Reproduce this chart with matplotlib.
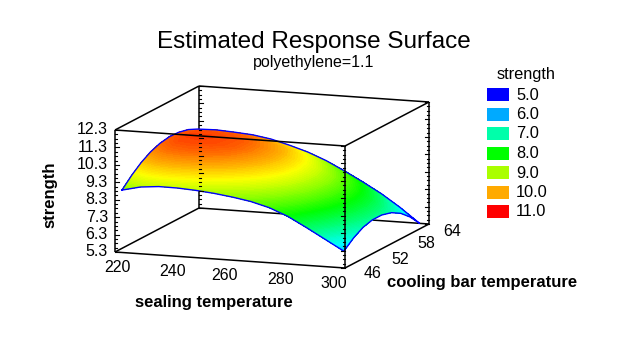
import numpy as np
import matplotlib
matplotlib.use("Agg")
import matplotlib.pyplot as plt
from matplotlib.colors import LinearSegmentedColormap
from matplotlib.patches import Rectangle

plt.rcParams['font.family'] = ['Liberation Sans', 'DejaVu Sans']

# surface
sealing = [221.6, 228.0, 234.4, 240.8, 247.2, 253.6, 260.0, 266.4, 272.8, 279.2, 285.6, 292.0, 298.8]
cooling = [46.5, 48.6, 50.6, 52.6, 54.6, 56.7, 58.7, 60.7, 62.7]
strength = [
    [8.80, 9.36, 9.80, 10.13, 10.34, 10.44, 10.41, 10.28, 10.03],
    [9.05, 9.61, 10.05, 10.36, 10.55, 10.62, 10.56, 10.37, 10.06],
    [9.15, 9.70, 10.12, 10.42, 10.59, 10.63, 10.55, 10.34, 10.00],
    [9.14, 9.68, 10.10, 10.39, 10.55, 10.58, 10.49, 10.27, 9.92],
    [9.08, 9.62, 10.02, 10.30, 10.45, 10.46, 10.35, 10.11, 9.75],
    [8.98, 9.48, 9.86, 10.11, 10.24, 10.23, 10.10, 9.85, 9.47],
    [8.84, 9.31, 9.66, 9.89, 9.99, 9.97, 9.82, 9.55, 9.15],
    [8.66, 9.10, 9.41, 9.61, 9.68, 9.62, 9.45, 9.15, 8.73],
    [8.38, 8.80, 9.09, 9.25, 9.29, 9.21, 9.00, 8.66, 8.21],
    [7.96, 8.39, 8.68, 8.84, 8.87, 8.76, 8.52, 8.15, 7.65],
    [7.40, 7.83, 8.13, 8.29, 8.31, 8.20, 7.95, 7.57, 7.05],
    [6.81, 7.26, 7.57, 7.73, 7.75, 7.62, 7.34, 6.92, 6.35],
    [6.18, 6.65, 6.97, 7.12, 7.12, 6.96, 6.64, 6.15, 5.51],
]

x_ticks = [220, 240, 260, 280, 300]
y_ticks = [46, 52, 58, 64]
z_ticks = [5.3, 6.3, 7.3, 8.3, 9.3, 10.3, 11.3, 12.3]

legend_values = [5.0, 6.0, 7.0, 8.0, 9.0, 10.0, 11.0]
legend_colors = ['#0000ff', '#00aaff', '#00ffaa', '#00ff00', '#aaff00', '#ffaa00', '#ff0000']


def project(x, y, z):
    # oblique box: front-left-bottom corner plus one pixel vector per axis
    u = (np.asarray(x, float) - 220) / 80
    v = (np.asarray(y, float) - 46) / 18
    w = (np.asarray(z, float) - 5.3) / 7
    return 115 + 230 * u + 84 * v, 252 + 16 * u - 44 * v - 122 * w


def edge(ax, p, q, zorder=1):
    a = project(*p)
    b = project(*q)
    ax.plot([a[0], b[0]], [a[1], b[1]], color='k', lw=1.1, zorder=zorder,
            solid_capstyle='butt')


fig = plt.figure(figsize=(6.27, 3.5), dpi=100)
ax = fig.add_axes([0, 0, 1, 1])
ax.set_xlim(0, 627)
ax.set_ylim(350, 0)
ax.axis('off')

x0, x1 = x_ticks[0], x_ticks[-1]
y0, y1 = y_ticks[0], y_ticks[-1]
z0, z1 = z_ticks[0], z_ticks[-1]

# box behind the surface
edge(ax, (x0, y0, z0), (x1, y0, z0))
edge(ax, (x0, y0, z0), (x0, y1, z0))
edge(ax, (x0, y1, z0), (x1, y1, z0))
edge(ax, (x1, y0, z0), (x1, y1, z0))
edge(ax, (x0, y1, z0), (x0, y1, z1))
edge(ax, (x1, y1, z0), (x1, y1, z1))
edge(ax, (x0, y1, z1), (x1, y1, z1))
edge(ax, (x0, y0, z1), (x0, y1, z1))
edge(ax, (x1, y0, z1), (x1, y1, z1))
edge(ax, (x0, y0, z0), (x0, y0, z1))

# surface
cmap = LinearSegmentedColormap.from_list('strength', [
    (0.0, '#0000ff'), (1 / 6, '#00aaff'), (1.5 / 6, '#00ffff'), (1 / 3, '#00ffaa'), (0.5, '#00ff00'),
    (4 / 6, '#aaff00'), (4.5 / 6, '#ffff00'), (5 / 6, '#ffaa00'), (1.0, '#ff0000'),
])
X, Y = np.meshgrid(sealing, cooling, indexing='ij')
Z = np.array(strength)
PX, PY = project(X, Y, Z)
ax.contourf(PX, PY, Z, levels=np.linspace(5, 11, 121), cmap=cmap, zorder=2, antialiased=False)
outline = np.vstack([
    np.column_stack([PX[:, 0], PY[:, 0]]),
    np.column_stack([PX[-1, :], PY[-1, :]]),
    np.column_stack([PX[::-1, -1], PY[::-1, -1]]),
    np.column_stack([PX[0, ::-1], PY[0, ::-1]]),
])
ax.plot(outline[:, 0], outline[:, 1], color='#0000ff', lw=1.0, zorder=3)

# front edges go over the surface
edge(ax, (x0, y0, z1), (x1, y0, z1), zorder=4)
edge(ax, (x1, y0, z0), (x1, y0, z1), zorder=4)

# z ticks on the four verticals, major each unit with minor between
for xc, yc, sign in [(x0, y0, 1), (x0, y1, 1), (x1, y0, -1), (x1, y1, -1)]:
    px, _ = project(xc, yc, z0)
    for z in np.arange(z0, z1 + 0.01, 0.25):
        _, py = project(xc, yc, z)
        major = abs((z - z0) - round(z - z0)) < 0.01
        ax.plot([px, px + sign * (4 if major else 2)], [py, py], color='k', lw=0.8, zorder=4)

z_labels = [f'{z:.1f}' for z in z_ticks]
for z, lab in zip(z_ticks, z_labels):
    _, py = project(x0, y0, z)
    ax.text(108, py, lab, ha='right', va='center', fontsize=11.5, color='k')

x_label_shift = [2, 0, -5, -7, -11]
for x, dx in zip(x_ticks, x_label_shift):
    px, py = project(x, y0, z0)
    ax.text(px + dx, py + 16, str(x), ha='center', va='center', fontsize=11.5)

y_label_shift = [(28, 5), (27, 6), (25, 5), (23, 7)]
for y, (dx, dy) in zip(y_ticks, y_label_shift):
    px, py = project(x1, y, z0)
    ax.text(px + dx, py + dy, str(y), ha='center', va='center', fontsize=11.5)

# titles and axis labels
ax.text(314, 42, 'Estimated Response Surface', ha='center', va='center', fontsize=17.5)
ax.text(314, 62, 'polyethylene=1.1', ha='center', va='center', fontsize=11.5)
ax.text(50, 195, 'strength', rotation=90, ha='center', va='center', fontsize=12, fontweight='bold')
ax.text(214, 302, 'sealing temperature', ha='center', va='center', fontsize=12, fontweight='bold')
ax.text(482, 282, 'cooling bar temperature', ha='center', va='center', fontsize=12, fontweight='bold')

# legend
ax.text(526, 75, 'strength', ha='center', va='center', fontsize=11.8)
for i, (val, col) in enumerate(zip(legend_values, legend_colors)):
    top = 88 + i * 19.5
    ax.add_patch(Rectangle((487, top), 22, 13, facecolor=col, edgecolor='none'))
    ax.text(516, top + 7, f'{val:.1f}', ha='left', va='center', fontsize=11.8)

fig.savefig('out.png', dpi=100)
